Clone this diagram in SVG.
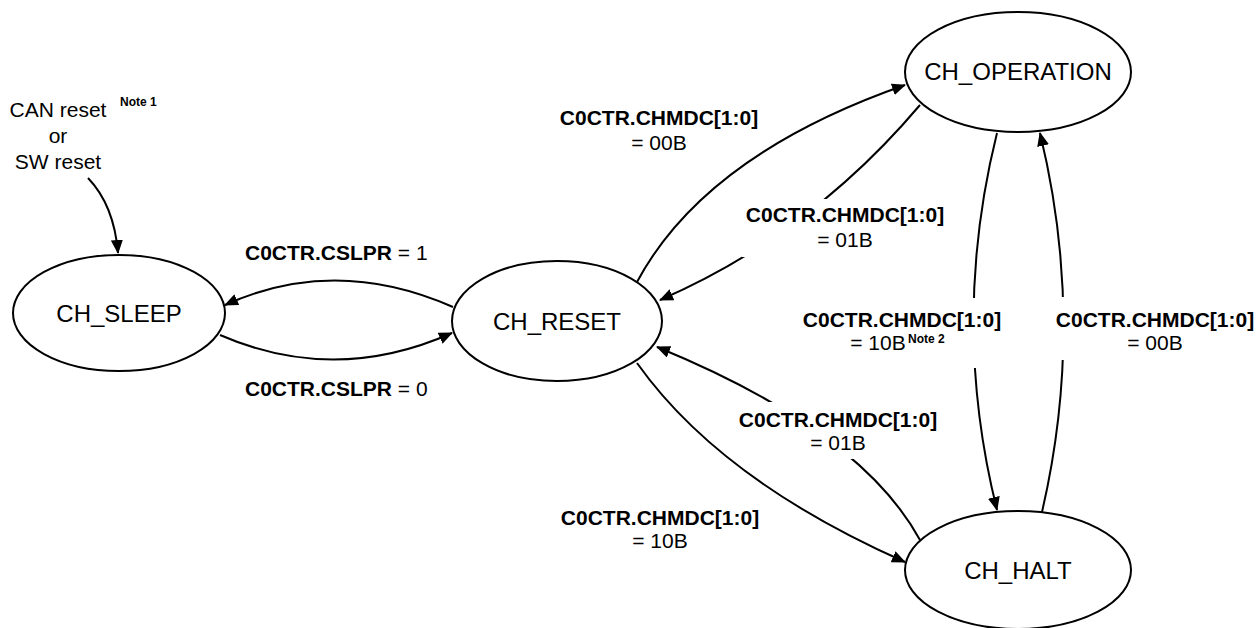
<svg xmlns="http://www.w3.org/2000/svg" width="1258" height="628" viewBox="0 0 1258 628">
<style>
.node{fill:#fff;stroke:#000;stroke-width:2}
.name{font-family:"Liberation Sans",Arial,sans-serif;font-size:24px;text-anchor:middle;fill:#000}
.lbl{font-family:"Liberation Sans",Arial,sans-serif;font-size:21px;text-anchor:middle;fill:#000}
.b{font-weight:bold}
.note{font-family:"Liberation Sans",Arial,sans-serif;font-size:12px;font-weight:bold;fill:#000}
.edge{fill:none;stroke:#000;stroke-width:2;marker-end:url(#arr)}
.mask{fill:#fff;stroke:none}
</style>
<defs>
<marker id="arr" markerUnits="userSpaceOnUse" markerWidth="14" markerHeight="12" refX="13" refY="6" orient="auto">
<path d="M0,0 L14,6 L0,12 z" fill="#000"/>
</marker>
</defs>
<rect width="1258" height="628" fill="#fff"/>

<g id="connectors">
<path class="edge" d="M88,178 Q114,205 118,253"/>
<path class="edge" d="M453,307 Q335,255 225,305"/>
<path class="edge" d="M220,335 Q335,385 452,333"/>
<path class="edge" d="M637,282 Q705,155 905,85"/>
<path class="edge" d="M920,105 Q810,235 660,300"/>
<path class="edge" d="M637,363 Q720,480 905,562"/>
<path class="edge" d="M920,540 Q860,430 657,347"/>
<path class="edge" d="M997,133 Q950,322 997,510"/>
<path class="edge" d="M1042,512 Q1086,322 1040,133"/>
</g>

<g id="labels">
<g id="reset-source">
<text class="lbl" x="58" y="117">CAN reset</text>
<text class="note" x="120" y="106">Note 1</text>
<text class="lbl" x="58" y="143">or</text>
<text class="lbl" x="58" y="169">SW reset</text>
</g>
<g id="lbl-cslpr1">
<text class="lbl" x="245" y="260" style="text-anchor:start"><tspan class="b">C0CTR.CSLPR</tspan> = 1</text>
</g>
<g id="lbl-cslpr0">
<text class="lbl" x="245" y="396" style="text-anchor:start"><tspan class="b">C0CTR.CSLPR</tspan> = 0</text>
</g>
<g id="lbl-reset-op">
<text class="lbl b" x="659" y="125">C0CTR.CHMDC[1:0]</text>
<text class="lbl" x="659" y="150">= 00B</text>
</g>
<g id="lbl-op-reset">
<rect class="mask" x="742" y="199" width="206" height="58"/>
<text class="lbl b" x="845" y="222">C0CTR.CHMDC[1:0]</text>
<text class="lbl" x="845" y="247">= 01B</text>
</g>
<g id="lbl-op-halt">
<rect class="mask" x="800" y="298" width="204" height="70"/>
<text class="lbl b" x="902" y="327">C0CTR.CHMDC[1:0]</text>
<text class="lbl" x="878" y="350">= 10B</text>
<text class="note" x="908" y="343">Note 2</text>
</g>
<g id="lbl-halt-op">
<rect class="mask" x="1053" y="297" width="205" height="63"/>
<text class="lbl b" x="1155" y="327">C0CTR.CHMDC[1:0]</text>
<text class="lbl" x="1155" y="350">= 00B</text>
</g>
<g id="lbl-halt-reset">
<rect class="mask" x="735" y="402" width="205" height="57"/>
<text class="lbl b" x="838" y="427">C0CTR.CHMDC[1:0]</text>
<text class="lbl" x="838" y="450">= 01B</text>
</g>
<g id="lbl-reset-halt">
<text class="lbl b" x="660" y="525">C0CTR.CHMDC[1:0]</text>
<text class="lbl" x="660" y="548">= 10B</text>
</g>
</g>

<g id="CH_SLEEP">
<ellipse class="node" cx="119" cy="313" rx="106" ry="58"/>
<text class="name" x="119" y="322">CH_SLEEP</text>
</g>
<g id="CH_RESET">
<ellipse class="node" cx="557" cy="321" rx="105" ry="60"/>
<text class="name" x="557" y="330">CH_RESET</text>
</g>
<g id="CH_OPERATION">
<ellipse class="node" cx="1018" cy="72" rx="113" ry="60"/>
<text class="name" x="1018" y="80">CH_OPERATION</text>
</g>
<g id="CH_HALT">
<ellipse class="node" cx="1018" cy="570" rx="113" ry="59"/>
<text class="name" x="1018" y="579">CH_HALT</text>
</g>
</svg>
